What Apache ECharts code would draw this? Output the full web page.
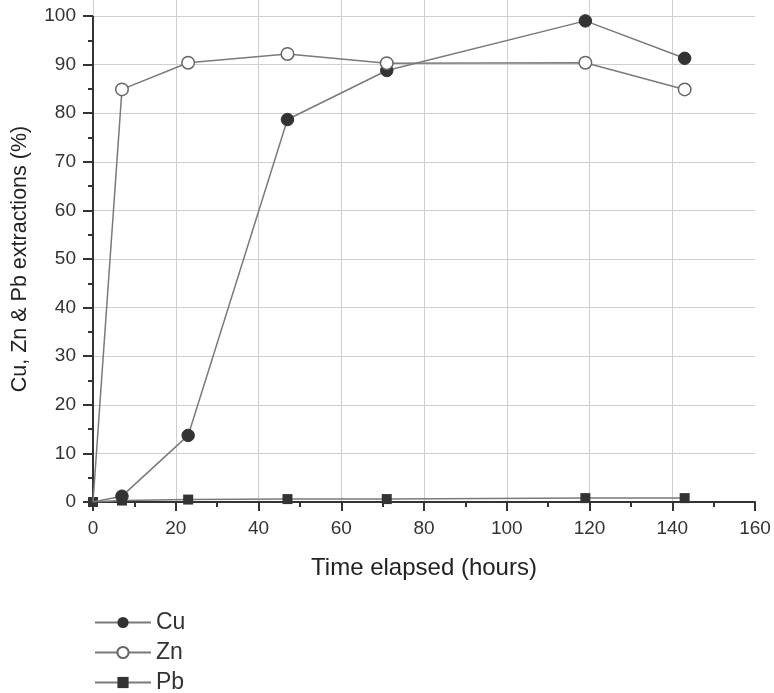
<!DOCTYPE html>
<html>
<head>
<meta charset="utf-8">
<script src="https://cdn.jsdelivr.net/npm/echarts@6/dist/echarts.min.js"></script>
<style>html,body{margin:0;padding:0;background:#fff;}#c{width:774px;height:693px;}</style>
</head>
<body>
<div id="c"></div>
<script>
var hours = [0, 7, 23, 47, 71, 119, 143];
var cu = [0, 1.2, 13.7, 78.7, 88.8, 99.0, 91.3];
var zn = [0, 84.9, 90.4, 92.2, 90.3, 90.4, 84.9];
var pb = [0, 0.3, 0.5, 0.6, 0.6, 0.8, 0.8];
var xTicks = [0, 20, 40, 60, 80, 100, 120, 140, 160];
var yTicks = [0, 10, 20, 30, 40, 50, 60, 70, 80, 90, 100];

function pairs(v) { return hours.map(function (h, i) { return [h, v[i]]; }); }
function sizeSkipOrigin(s) { return function (v, p) { return p && p.dataIndex === 0 ? 0 : s; }; }

var chart = echarts.init(document.getElementById('c'), null, { renderer: 'canvas' });
var font = 'Liberation Sans, Arial, sans-serif';
var lineCol = '#7a7a7a';
chart.setOption({
  animation: false,
  backgroundColor: '#fff',
  grid: { left: 93, right: 19, top: 0, bottom: 191, containLabel: false },
  legend: {
    orient: 'vertical', left: 89, top: 606, height: 140, itemGap: 7,
    itemWidth: 56, itemHeight: 14,
    textStyle: { fontFamily: font, fontSize: 23, color: '#333' },
    data: ['Cu', 'Zn', 'Pb']
  },
  xAxis: {
    type: 'value', min: xTicks[0], max: xTicks[xTicks.length - 1], interval: 20,
    name: 'Time elapsed (hours)', nameLocation: 'middle', nameGap: 54,
    nameTextStyle: { fontFamily: font, fontSize: 24, color: '#222' },
    axisLine: { onZero: false, lineStyle: { color: '#333', width: 2 } },
    axisTick: { show: true, length: 9, lineStyle: { color: '#333', width: 2 } },
    minorTick: { show: true, splitNumber: 2, length: 5, lineStyle: { color: '#333', width: 2 } },
    axisLabel: { fontFamily: font, fontSize: 19, color: '#333', margin: 17,
      customValues: xTicks, showMaxLabel: true },
    splitLine: { show: true, showMaxLine: false, lineStyle: { color: '#cfcfcf', width: 1 } }
  },
  yAxis: {
    type: 'value', min: 0, max: 103.3, interval: 10,
    name: 'Cu, Zn & Pb extractions (%)', nameLocation: 'middle', nameGap: 62,
    nameTextStyle: { fontFamily: font, fontSize: 21.5, color: '#222', padding: [0, 16, 0, 0] },
    axisLine: { show: false },
    axisTick: { show: true, length: 10, lineStyle: { color: '#333', width: 2 },
      customValues: yTicks },
    minorTick: { show: true, splitNumber: 2, length: 5, lineStyle: { color: '#333', width: 2 } },
    axisLabel: { fontFamily: font, fontSize: 19, color: '#333', margin: 17, customValues: yTicks },
    splitLine: { show: true, lineStyle: { color: '#cfcfcf', width: 1 } }
  },
  series: [
    {
      name: 'Pb', type: 'line', data: pairs(pb), symbol: 'rect', symbolSize: 10,
      lineStyle: { color: lineCol, width: 1.5 }, itemStyle: { color: '#333' }, z: 3,
      markLine: {
        silent: true, symbol: 'none', label: { show: false },
        lineStyle: { color: '#333', width: 2, type: 'solid' },
        data: [[{ coord: [0, 0] }, { coord: [0, 100] }]]
      }
    },
    {
      name: 'Cu', type: 'line', data: pairs(cu), symbol: 'circle', symbolSize: sizeSkipOrigin(12.5),
      lineStyle: { color: lineCol, width: 1.5 }, itemStyle: { color: '#333', borderColor: '#333' }, z: 4
    },
    {
      name: 'Zn', type: 'line', data: pairs(zn), symbol: 'circle', symbolSize: sizeSkipOrigin(12.5),
      lineStyle: { color: lineCol, width: 1.5 },
      itemStyle: { color: '#fff', borderColor: '#666', borderWidth: 1.5 }, z: 5
    }
  ]
});
</script>
</body>
</html>
